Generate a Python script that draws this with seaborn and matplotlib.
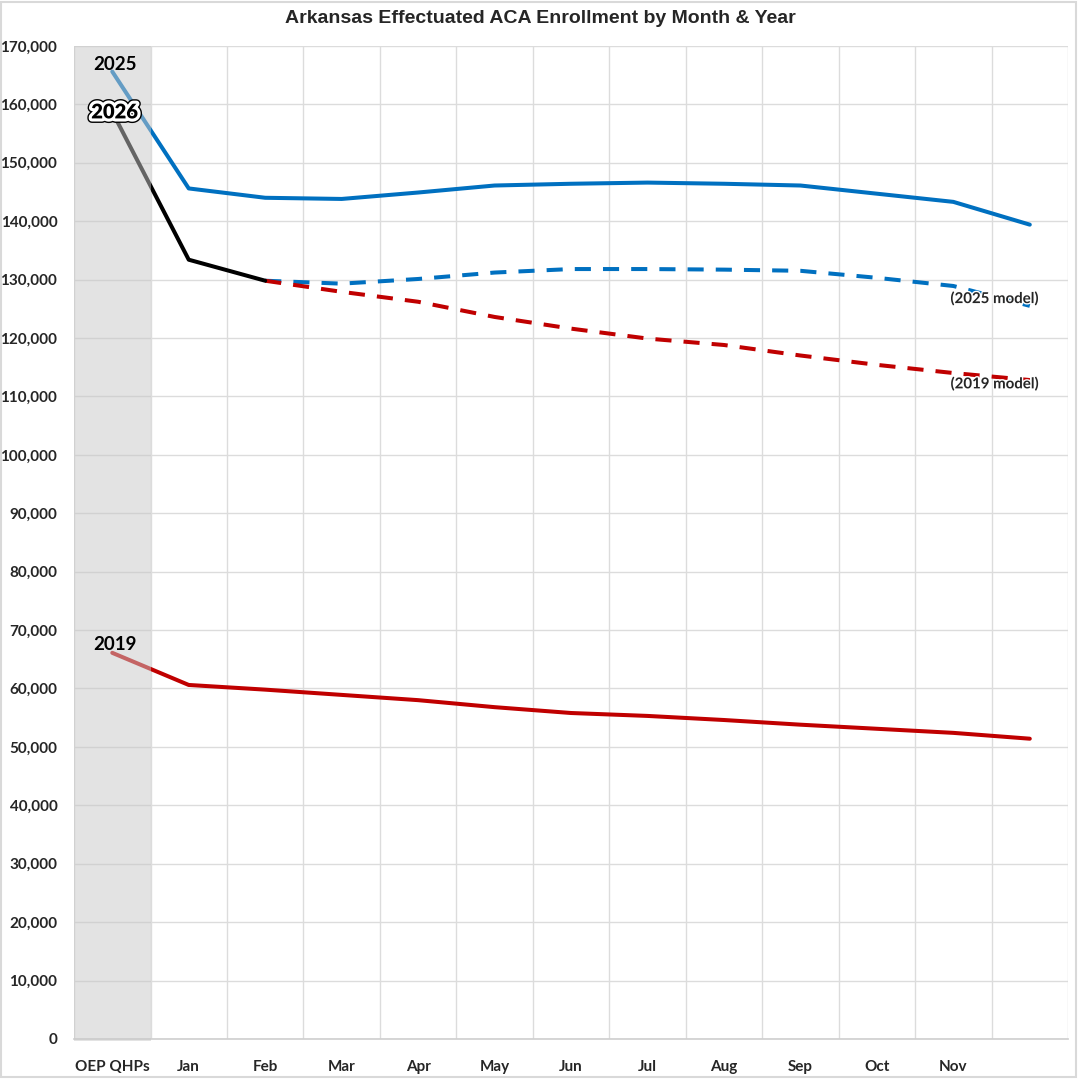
import numpy as np
import pandas as pd
import matplotlib
matplotlib.use("Agg")
import matplotlib.pyplot as plt
import matplotlib.patheffects as pe
from matplotlib.ticker import FuncFormatter, MultipleLocator
import seaborn as sns

# categories on the x axis (last one has no label in the original)
months = ["OEP QHPs", "Jan", "Feb", "Mar", "Apr", "May", "Jun",
          "Jul", "Aug", "Sep", "Oct", "Nov", ""]

enroll_2025 = [165600, 145600, 144000, 143800, 144900, 146100, 146400,
               146600, 146400, 146100, 144700, 143300, 139400]
enroll_2019 = [66100, 60600, 59800, 58900, 58000, 56800, 55800,
               55300, 54600, 53800, 53100, 52400, 51400]
enroll_2026 = [158700, 133400, 129800]

# projections starting from Feb 2026
model_2025 = [129800, 129300, 130100, 131200, 131800, 131800, 131700,
              131500, 130300, 128900, 125500]
model_2019 = [129800, 127900, 126200, 123600, 121600, 119900, 118800,
              117000, 115400, 114000, 112800]

blue = "#0070C0"
red = "#C00000"

sns.set_theme(style="white")
plt.rcParams["font.family"] = ["Lato", "DejaVu Sans"]

fig = plt.figure(figsize=(10.81, 10.80), dpi=100)
ax = fig.add_axes([0.0685, 0.038, 0.9195, 0.9195])

x_all = np.arange(len(months))
df25 = pd.DataFrame({"x": x_all, "y": enroll_2025})
df19 = pd.DataFrame({"x": x_all, "y": enroll_2019})
df26 = pd.DataFrame({"x": x_all[:len(enroll_2026)], "y": enroll_2026})
dfm25 = pd.DataFrame({"x": x_all[2:2 + len(model_2025)], "y": model_2025})
dfm19 = pd.DataFrame({"x": x_all[2:2 + len(model_2019)], "y": model_2019})

lw = 2.9
sns.lineplot(data=df25, x="x", y="y", ax=ax, color=blue, lw=lw, zorder=3)
sns.lineplot(data=df19, x="x", y="y", ax=ax, color=red, lw=lw, zorder=3)
sns.lineplot(data=dfm25, x="x", y="y", ax=ax, color=blue, lw=lw, zorder=3)
ax.lines[-1].set_dashes((4, 3))
sns.lineplot(data=dfm19, x="x", y="y", ax=ax, color=red, lw=lw, zorder=3)
ax.lines[-1].set_dashes((4, 3))
sns.lineplot(data=df26, x="x", y="y", ax=ax, color="black", lw=lw, zorder=4)

# shaded OEP column, semi-transparent over the lines
ax.axvspan(-0.5, 0.5, ymin=-0.002, color="#C8C8C8", alpha=0.5, zorder=5,
           lw=0, clip_on=False)

lab = dict(fontsize=13.5, fontweight="bold", ha="center", va="center",
           zorder=6, color="black")
ax.text(0.03, 166900, "2025", **lab)
ax.text(0.03, 67450, "2019", **lab)
ax.text(0.03, 158700, "2026",
        path_effects=[pe.Stroke(linewidth=6.5, foreground="black"),
                      pe.Stroke(linewidth=4.5, foreground="white"),
                      pe.Normal()],
        fontsize=14.5, fontweight="heavy", ha="center", va="center",
        zorder=6, color="black")

white_edge = [pe.withStroke(linewidth=2, foreground="white")]
ax.text(11.54, 126700, "(2025 model)", fontsize=10.8, fontweight="bold",
        ha="center", va="center", zorder=6, path_effects=white_edge)
ax.text(11.54, 112100, "(2019 model)", fontsize=10.8, fontweight="bold",
        ha="center", va="center", zorder=6, path_effects=white_edge)

ax.set_xlim(-0.5, len(months) - 0.5)
ax.set_ylim(0, 170000)
ax.set_xticks(x_all)
ax.set_xticklabels(months, fontsize=11, fontweight="bold")
ax.xaxis.set_minor_locator(MultipleLocator(1, offset=0.5))
ax.yaxis.set_major_locator(MultipleLocator(10000))
ax.yaxis.set_major_formatter(FuncFormatter(lambda v, p: f"{int(v):,}"))
for t in ax.get_yticklabels():
    t.set_fontweight("bold")
    t.set_fontsize(11)
ax.tick_params(axis="x", length=0, pad=15)
ax.tick_params(axis="y", length=0, pad=12)

ax.grid(True, which="minor", axis="x", color="#DCDCDC", lw=1)
ax.grid(True, which="major", axis="y", color="#DCDCDC", lw=1)
ax.grid(False, which="major", axis="x")
for s in ["top", "right", "left"]:
    ax.spines[s].set_visible(False)
ax.spines["bottom"].set_color("#D0D0D0")
ax.set_xlabel("")
ax.set_ylabel("")

fig.text(0.5, 0.983, "Arkansas Effectuated ACA Enrollment by Month & Year",
         ha="center", va="center", fontsize=14, fontweight="bold",
         family="Liberation Sans")

# thin frame around the whole picture
fig.patches.append(plt.Rectangle((0.001, 0.003), 0.994, 0.995,
                                 transform=fig.transFigure, fill=False,
                                 edgecolor="#D9D9D9", lw=1.5))

fig.savefig("out.png", dpi=100)
